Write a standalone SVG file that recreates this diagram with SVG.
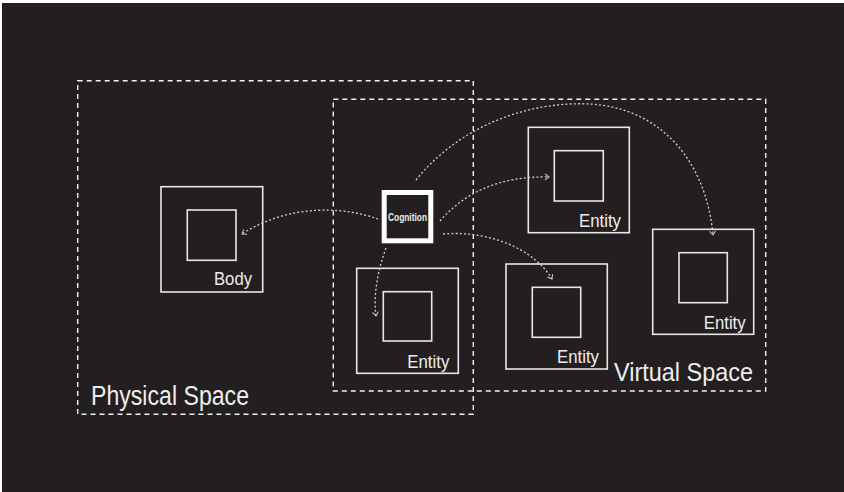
<svg xmlns="http://www.w3.org/2000/svg" width="844" height="492" viewBox="0 0 844 492">
  <defs>
    <style>
      .space { fill: none; stroke: #f2f2f2; stroke-width: 1.4; stroke-dasharray: 5 4; }
      .box { fill: none; stroke: #e8e8e8; stroke-width: 1.6; }
      .link { fill: none; stroke: #d0d0d0; stroke-width: 1.3; stroke-dasharray: 2 2.2; marker-end: url(#chev); }
      .lbl { font-family: "Liberation Sans", Arial, sans-serif; fill: #ededed; }
      .ent { font-size: 19px; text-anchor: end; }
      .big { font-size: 27px; }
    </style>
    <marker id="chev" viewBox="0 0 8 8" refX="6" refY="4" markerWidth="8" markerHeight="8" markerUnits="userSpaceOnUse" orient="auto">
      <path d="M2,1 L6,4 L2,7" fill="none" stroke="#d0d0d0" stroke-width="1"/>
    </marker>
  </defs>

  <rect x="0" y="0" width="844" height="492" fill="#ffffff"/>
  <rect x="2" y="3" width="842" height="489" fill="#231f20"/>

  <!-- space regions -->
  <g id="physical-space">
    <rect class="space" x="77.7" y="80.7" width="395.6" height="333.6"/>
    <text class="lbl big" x="91" y="405" textLength="158" lengthAdjust="spacingAndGlyphs">Physical Space</text>
  </g>
  <g id="virtual-space">
    <rect class="space" x="333.3" y="99.3" width="432.4" height="291.7"/>
    <text class="lbl" x="614" y="381" font-size="26" textLength="139" lengthAdjust="spacingAndGlyphs">Virtual Space</text>
  </g>

  <!-- body -->
  <g id="body">
    <rect class="box" x="161" y="186.7" width="101.7" height="105.3"/>
    <rect class="box" x="187.3" y="210" width="48.7" height="50.3"/>
    <text class="lbl ent" x="252" y="285" textLength="38" lengthAdjust="spacingAndGlyphs">Body</text>
  </g>

  <!-- cognition -->
  <g id="cognition">
    <rect x="384.2" y="192.5" width="46.6" height="48.3" fill="#231f20" stroke="#ffffff" stroke-width="5"/>
    <text class="lbl" x="407.5" y="221" font-size="10" font-weight="bold" text-anchor="middle" textLength="39" lengthAdjust="spacingAndGlyphs">Cognition</text>
  </g>

  <!-- entities -->
  <g id="entity-1">
    <rect class="box" x="528.3" y="127.3" width="101" height="105.4"/>
    <rect class="box" x="554.3" y="150.7" width="49" height="50.3"/>
    <text class="lbl ent" x="621" y="227.3" textLength="42" lengthAdjust="spacingAndGlyphs">Entity</text>
  </g>
  <g id="entity-2">
    <rect class="box" x="356.7" y="268.3" width="101.6" height="105"/>
    <rect class="box" x="383.3" y="291.7" width="48.4" height="49.3"/>
    <text class="lbl ent" x="449.3" y="367.7" textLength="42" lengthAdjust="spacingAndGlyphs">Entity</text>
  </g>
  <g id="entity-3">
    <rect class="box" x="506" y="264" width="101.3" height="105"/>
    <rect class="box" x="532.3" y="287.3" width="48.4" height="50"/>
    <text class="lbl ent" x="599" y="362.7" textLength="42" lengthAdjust="spacingAndGlyphs">Entity</text>
  </g>
  <g id="entity-4">
    <rect class="box" x="652.7" y="229.3" width="101" height="105"/>
    <rect class="box" x="679" y="252.7" width="48.3" height="50"/>
    <text class="lbl ent" x="745.7" y="329" textLength="42" lengthAdjust="spacingAndGlyphs">Entity</text>
  </g>

  <!-- connectors -->
  <g id="connectors">
    <path class="link" d="M378,219 C345,207 290,203 242,234"/>
    <path class="link" d="M386,248 C378,270 373,295 376,316"/>
    <path class="link" d="M440,221 C465,192 500,176 549,177"/>
    <path class="link" d="M443,234 C490,230 535,250 552,279"/>
    <path class="link" d="M416,180 C460,125 530,101 590,104 C660,108 706,160 713,235"/>
  </g>
</svg>
